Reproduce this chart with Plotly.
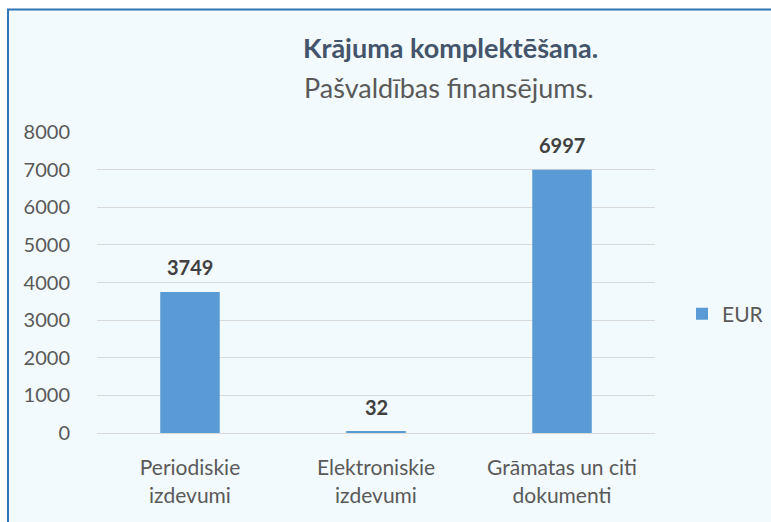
import plotly.graph_objects as go

categories = ["Periodiskie<br>izdevumi", "Elektroniskie<br>izdevumi", "Grāmatas un citi<br>dokumenti"]
values = [3749, 32, 6997]
series_name = "EUR"
title_main = "Krājuma komplektēšana."
title_sub = "Pašvaldības finansējums."
y_ticks = [0, 1000, 2000, 3000, 4000, 5000, 6000, 7000, 8000]

FONT = "Lato, 'Open Sans', sans-serif"
W, H = 771, 522
L, R, T, B = 97, 655, 132, 433  # plot area pixels


def px_x(p):
    return (p - L) / (R - L)


def px_y(p):
    return (B - p) / (B - T)


fig = go.Figure()
fig.add_trace(go.Bar(
    x=categories, y=values, name=series_name,
    marker=dict(color="#5B9BD5", line=dict(width=0)),
    showlegend=True,
))

for c, v in zip(categories, values):
    fig.add_annotation(x=c, y=v, xref="x", yref="y", text="<b>%d</b>" % v,
                       showarrow=False, yanchor="bottom", yshift=11,
                       font=dict(family=FONT, size=20, color="#404040"))

fig.add_annotation(x=px_x(450), y=px_y(48), xref="paper", yref="paper",
                   text="<b>" + title_main + "</b>", showarrow=False,
                   xanchor="center", yanchor="middle",
                   font=dict(family=FONT, size=27, color="#44546A"))
fig.add_annotation(x=px_x(449), y=px_y(88), xref="paper", yref="paper",
                   text=title_sub, showarrow=False,
                   xanchor="center", yanchor="middle",
                   font=dict(family=FONT, size=27, color="#595959"))

fig.add_shape(type="rect", xref="paper", yref="paper", layer="below",
              x0=px_x(8), x1=px_x(790), y0=px_y(540), y1=px_y(9.5),
              fillcolor="#F2FAFD", line=dict(color="#2E75B6", width=2))

fig.update_layout(
    width=W, height=H,
    margin=dict(l=L, r=W - R, t=T, b=H - B, pad=0, autoexpand=False),
    paper_bgcolor="white", plot_bgcolor="rgba(0,0,0,0)",
    bargap=0.68,
    font=dict(family=FONT, color="#595959"),
    legend=dict(x=px_x(682), y=px_y(314), xanchor="left", yanchor="middle",
                bgcolor="rgba(0,0,0,0)", font=dict(size=21, color="#595959"),
                itemwidth=30),
    xaxis=dict(showgrid=False, showline=False, ticks="outside", ticklen=16,
               tickcolor="rgba(0,0,0,0)",
               tickfont=dict(family=FONT, size=21, color="#595959")),
    yaxis=dict(range=[0, 8000], tickvals=y_ticks, showgrid=True,
               gridcolor="#D9D9D9", gridwidth=1.3, zeroline=True,
               zerolinecolor="#D9D9D9", zerolinewidth=1.3, showline=False,
               ticks="outside", ticklen=22, tickcolor="rgba(0,0,0,0)",
               tickfont=dict(family=FONT, size=20, color="#595959")),
)

fig.write_html("out.html", config={"displayModeBar": False},
               post_script="document.body.style.margin='0';")
